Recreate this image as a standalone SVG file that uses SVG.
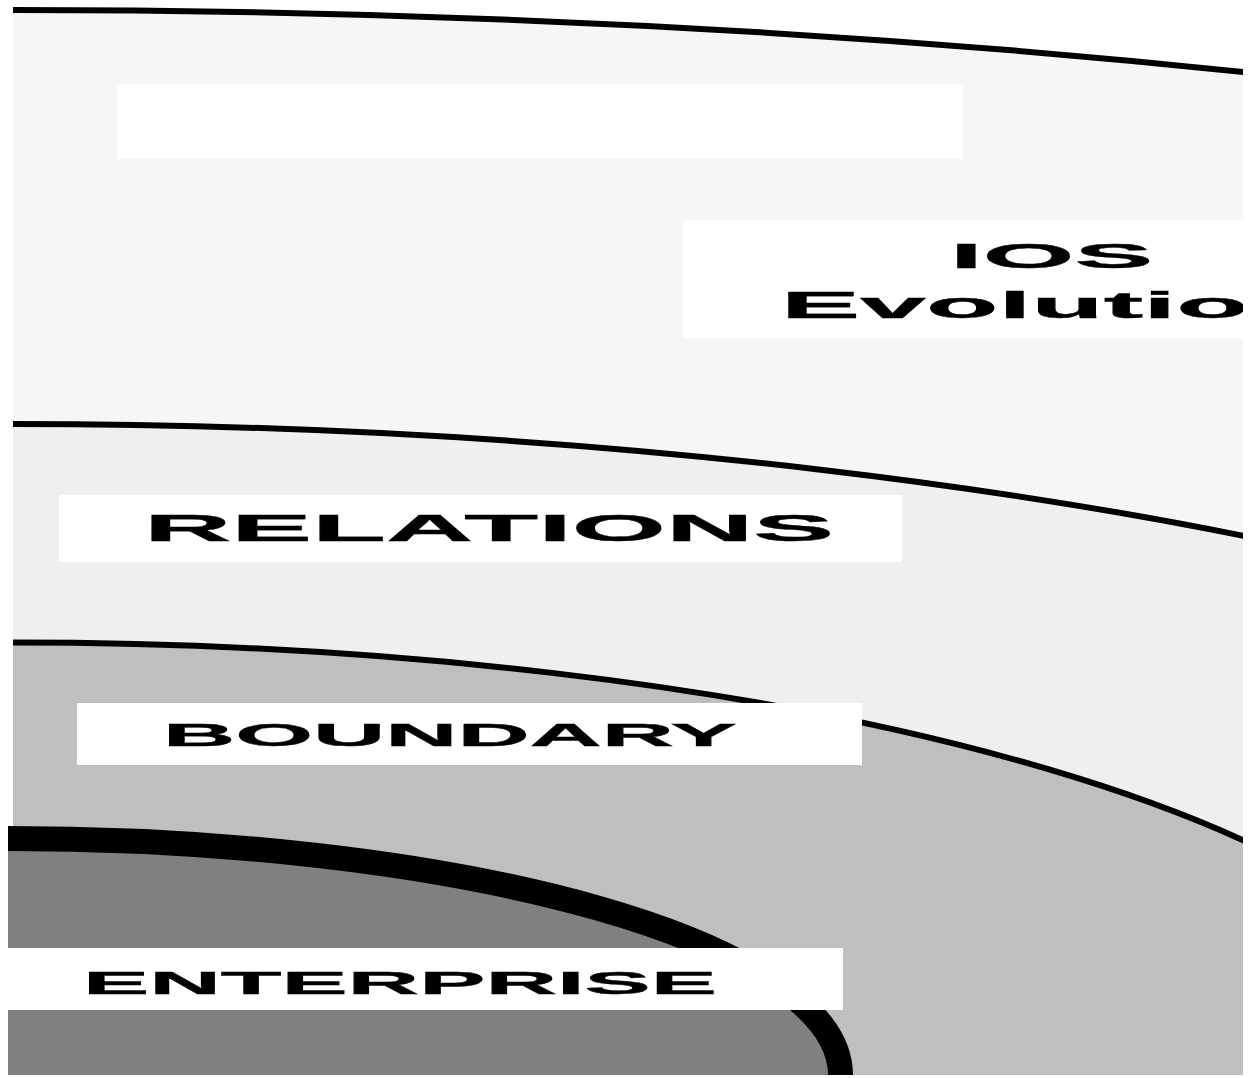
<svg xmlns="http://www.w3.org/2000/svg" width="1258" height="1078" viewBox="0 0 1258 1078">
<style>
.ring{stroke:#000;stroke-width:6}
.lbl{font-family:"Liberation Sans",Arial,Helvetica,sans-serif;font-weight:bold;fill:#000;stroke:#000;stroke-width:0.4}
.box{fill:#fff}
</style>
<defs>
<clipPath id="cOuter"><rect x="13" y="0" width="1230" height="1075"/></clipPath>
<clipPath id="cInner"><rect x="8" y="0" width="1235" height="1075"/></clipPath>
</defs>
<rect x="0" y="0" width="1258" height="1078" fill="#fff"/>
<g id="layer-ios" clip-path="url(#cOuter)">
<ellipse class="ring" cx="13" cy="1075" rx="3659" ry="1065" fill="#f6f6f6"/>
</g>
<g id="layer-relations" clip-path="url(#cOuter)">
<ellipse class="ring" cx="13" cy="1075" rx="2194" ry="651" fill="#efefef"/>
</g>
<g id="layer-boundary" clip-path="url(#cOuter)">
<ellipse class="ring" cx="13" cy="1075" rx="1464" ry="432.5" fill="#bfbfbf"/>
</g>
<g id="layer-enterprise" clip-path="url(#cInner)">
<ellipse cx="8" cy="1075" rx="832.5" ry="236.5" fill="#808080" stroke="#000" stroke-width="25"/>
</g>
<g id="label-blank">
<rect class="box" x="117" y="84" width="846" height="75"/>
</g>
<g id="label-ios" clip-path="url(#cOuter)">
<rect class="box" x="683" y="220" width="560" height="118"/>
<text class="lbl" x="950" y="268" font-size="35" textLength="203" lengthAdjust="spacingAndGlyphs">IOS</text>
<text class="lbl" x="781" y="318" font-size="37" textLength="540" lengthAdjust="spacingAndGlyphs">Evolution</text>
</g>
<g id="label-relations">
<rect class="box" x="59" y="495" width="843" height="67"/>
<text class="lbl" x="144" y="541" font-size="36" textLength="690" lengthAdjust="spacingAndGlyphs">RELATIONS</text>
</g>
<g id="label-boundary">
<rect class="box" x="77" y="703" width="785" height="62"/>
<text class="lbl" x="163" y="746" font-size="32" textLength="574" lengthAdjust="spacingAndGlyphs">BOUNDARY</text>
</g>
<g id="label-enterprise">
<rect class="box" x="8" y="948" width="835" height="62"/>
<text class="lbl" x="83" y="994" font-size="31" textLength="634" lengthAdjust="spacingAndGlyphs">ENTERPRISE</text>
</g>
<g id="connectors"/>
</svg>
